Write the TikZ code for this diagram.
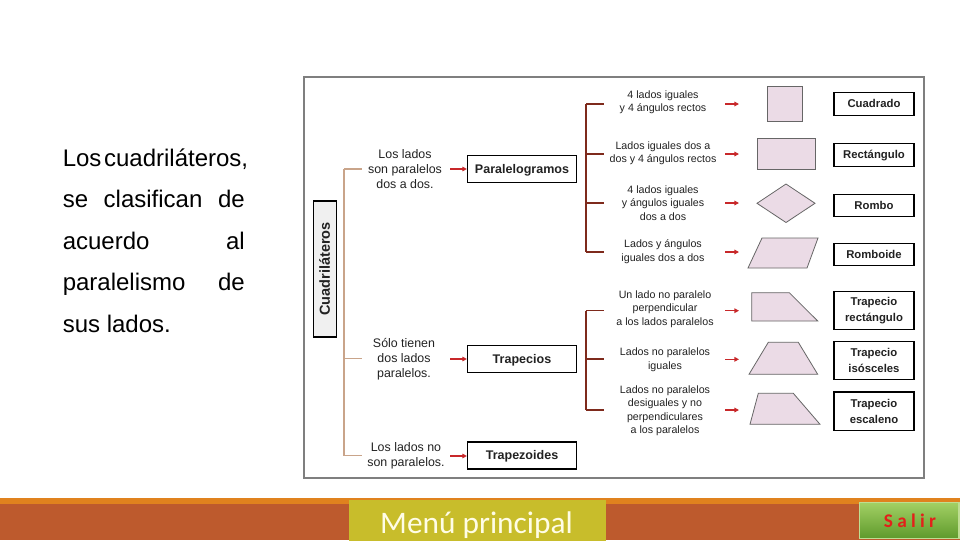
\documentclass[tikz,border=0pt]{standalone}
\usepackage{fontspec}
\setmainfont{Liberation Sans}
\newfontfamily\calib{Carlito}
\usetikzlibrary{arrows.meta}
\definecolor{trunk}{HTML}{C9A48A}
\definecolor{brk}{HTML}{7E2A1C}
\definecolor{arr}{HTML}{C8282A}
\definecolor{shp}{HTML}{EBDBE6}
\definecolor{frm}{HTML}{7F7F7F}
\definecolor{orng}{HTML}{E0821E}
\definecolor{brwn}{HTML}{BD5A2D}
\definecolor{olivebox}{HTML}{C8BD2B}
\definecolor{menutxt}{HTML}{FFFDE6}
\definecolor{salirred}{HTML}{E3201A}
\definecolor{gtop}{HTML}{A2D064}
\definecolor{gbot}{HTML}{5F9A2C}
\definecolor{txt}{HTML}{222222}
\tikzset{
  leftline/.style={anchor=base west, inner sep=0pt, font=\fontsize{18}{18}\selectfont, text=black},
  desc/.style={align=center, inner sep=0pt, font=\fontsize{8}{10.1}\selectfont, text=txt},
  descone/.style={align=center, inner sep=0pt, font=\fontsize{9.3}{11.25}\selectfont, text=txt},
  lbl/.style={draw=black, line width=0.9pt, fill=white, align=center, inner sep=0pt,
    font=\bfseries\fontsize{8.5}{11.6}\selectfont, text=txt, minimum width=60pt},
  onel/.style={text height=6.4pt, text depth=0.6pt},
  lblone/.style={draw=black, line width=0.9pt, fill=white, align=center, inner sep=0pt,
    font=\bfseries\fontsize{9.4}{11}\selectfont, text=txt, minimum width=81.75pt, minimum height=20.25pt,
    text height=7pt, text depth=1pt},
  quad/.style={fill=shp, draw=black!60, line width=0.6pt},
  arrowline/.style={draw=arr, line width=0.9pt, -{Triangle[length=3.4pt,width=3.4pt]}},
  trunkline/.style={draw=trunk, line width=0.9pt},
  bracketline/.style={draw=brk, line width=1.1pt},
}
\begin{document}
\begin{tikzpicture}[x=0.75pt,y=-0.75pt]
\useasboundingbox (0,0) rectangle (960,540);
\fill[white] (0,0) rectangle (960,540);

% left text
\node[leftline] (l1) at (62.5,166) {Los\hspace{2pt}cuadriláteros,};
\node[leftline] (l2) at (62.5,207.5) {\makebox[136.5pt][s]{se clasifican de}};
\node[leftline] (l3) at (62.5,249) {\makebox[136.5pt][s]{acuerdo al}};
\node[leftline] (l4) at (62.5,290.5) {\makebox[136.5pt][s]{paralelismo de}};
\node[leftline] (l5) at (62.5,332) {sus lados.};

% frame
\draw[frm, line width=1.4pt] (304,77) rectangle (924,478);

% root
\node[draw=black, line width=0.9pt, fill=black!6, rotate=90, inner sep=0pt,
  minimum width=102pt, minimum height=17.25pt, text height=7.6pt, text depth=0.4pt,
  font=\bfseries\fontsize{10.9}{11}\selectfont, text=txt] (root) at (325,269) {Cuadriláteros};

% trunk
\coordinate (tr1) at (344,169);
\coordinate (tr2) at (344,358.5);
\coordinate (tr3) at (344,455.5);
\coordinate (te1) at (362,169);
\coordinate (te2) at (362,358.5);
\coordinate (te3) at (362,455.5);
\draw[trunkline] (tr1) -- (tr3);
\draw[trunkline] (tr1) -- (te1);
\draw[trunkline] (tr2) -- (te2);
\draw[trunkline] (tr3) -- (te3);

% level 1
\node[descone] (c1) at (405,169) {Los lados\\son paralelos\\dos a dos.};
\node[descone] (c2) at (404,359) {Sólo tienen\\dos lados\\paralelos.};
\node[descone] (c3) at (406,455.5) {Los lados no\\son paralelos.};
\node[lblone] (paral) at (522,169) {Paralelogramos};
\node[lblone] (trap) at (522,359) {Trapecios};
\node[lblone] (trapz) at (522,455.5) {Trapezoides};
\coordinate (a1) at (450,169);
\coordinate (a2) at (450,359);
\coordinate (a3) at (450,456);
\draw[arrowline] (a1) -- (paral.west);
\draw[arrowline] (a2) -- (trap.west);
\draw[arrowline] (a3) -- (trapz.west |- a3);

% bracket paralelogramos
\coordinate (b1) at (586,104);
\coordinate (b2) at (586,154);
\coordinate (b3) at (586,203);
\coordinate (b4) at (586,252);
\coordinate (be1) at (604,104);
\coordinate (be2) at (604,154);
\coordinate (be3) at (604,203);
\coordinate (be4) at (604,252);
\draw[bracketline] (b1) -- (b4);
\foreach \i in {1,...,4} {\draw[bracketline] (b\i) -- (be\i);}

% bracket trapecios
\coordinate (b5) at (586,310.5);
\coordinate (b6) at (586,359);
\coordinate (b7) at (586,410);
\coordinate (be5) at (604,310.5);
\coordinate (be6) at (604,359);
\coordinate (be7) at (604,410);
\draw[bracketline] (b5) -- (b7);
\foreach \i in {5,6,7} {\draw[bracketline] (b\i) -- (be\i);}

% descriptions
\node[desc] (d1) at (663,102) {4 lados iguales\\y 4 ángulos rectos};
\node[desc] (d2) at (663,153.5) {Lados iguales dos a\\dos y 4 ángulos rectos};
\node[desc] (d3) at (663,203) {4 lados iguales\\y ángulos iguales\\dos a dos};
\node[desc] (d4) at (663,251.5) {Lados y ángulos\\iguales dos a dos};
\node[desc] (d5) at (665,309) {Un lado no paralelo\\perpendicular\\a los lados paralelos};
\node[desc] (d6) at (665,359.7) {Lados no paralelos\\iguales};
\node[desc] (d7) at (665,410.7) {Lados no paralelos\\desiguales y no\\perpendiculares\\a los paralelos};

% arrows to shapes
\foreach \n/\y in {1/104,2/154,3/203,4/252,5/310.7,6/359.3,7/410} {
  \coordinate (s\n) at (725,\y);
  \coordinate (t\n) at (739,\y);
  \draw[arrowline] (s\n) -- (t\n);
}

% shapes
\draw[quad] (767.5,86.5) rectangle (802,121.5);
\draw[quad] (757,138.5) rectangle (815,169);
\draw[quad] (757,203.3) -- (786,184) -- (815,203.3) -- (786,222.5) -- cycle;
\draw[quad] (762,238) -- (818,238) -- (807,268) -- (748,268) -- cycle;
\draw[quad] (751.7,292.7) -- (789.3,292.7) -- (817.7,321) -- (751.7,321) -- cycle;
\draw[quad] (768.3,342.3) -- (798.3,342.3) -- (817.7,374.3) -- (749,374.3) -- cycle;
\draw[quad] (758.3,393.3) -- (793.3,393.3) -- (820,424.3) -- (750,424.3) -- cycle;

% labels
\node[lbl, onel, minimum height=17pt] (cuad) at (874,104) {Cuadrado};
\node[lbl, onel, minimum height=17pt] (rect) at (874,155) {Rectángulo};
\node[lbl, onel, minimum height=17pt] (rombo) at (874,205.5) {Rombo};
\node[lbl, onel, minimum height=17pt] (romboide) at (874,254.5) {Romboide};
\node[lbl, minimum height=28pt] (trect) at (874,310.5) {Trapecio\\rectángulo};
\node[lbl, minimum height=28pt] (tiso) at (874,360.5) {Trapecio\\isósceles};
\node[lbl, minimum height=29pt] (tesc) at (874,411.3) {Trapecio\\escaleno};

% footer
\fill[orng] (0,497.5) rectangle (960,504);
\fill[brwn] (0,504) rectangle (960,540);
\node[fill=olivebox, inner sep=0pt, minimum width=192.75pt, minimum height=30.75pt,
  anchor=north west] (menu) at (348.3,499.3) {};
\node[text=menutxt, inner sep=0pt, font=\calib\fontsize{23.5}{24}\selectfont, anchor=base]
  (menutext) at (476.5,533) {Menú principal};
\shade[top color=gtop, bottom color=gbot] (859.3,502.7) rectangle (959,538.3);
\draw[draw=gtop!70!white, line width=0.8pt] (859.3,502.7) rectangle (959,538.3);
\node[text=salirred, inner sep=0pt, font=\calib\bfseries\fontsize{14.5}{15}\selectfont, anchor=base]
  (salir) at (910,527.5) {S\hspace{3.2pt}a\hspace{3.2pt}l\hspace{3.2pt}i\hspace{3.2pt}r};
\end{tikzpicture}
\end{document}
